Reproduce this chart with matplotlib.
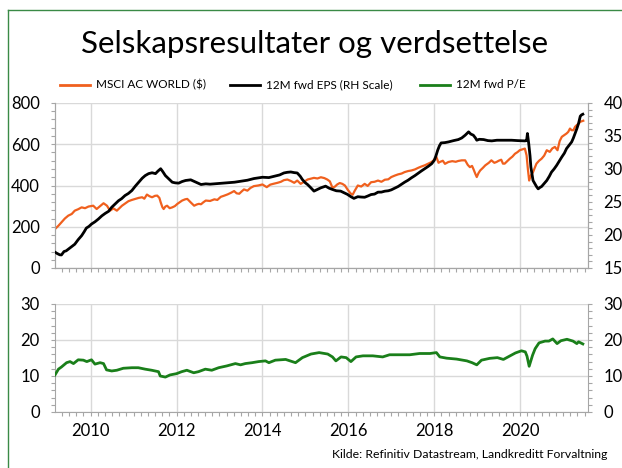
import matplotlib
matplotlib.use("Agg")
import matplotlib.pyplot as plt
from matplotlib.lines import Line2D
from matplotlib.ticker import MultipleLocator, FixedLocator

plt.rcParams["font.family"] = ["Lato", "DejaVu Sans"]

TITLE = "Selskapsresultater og verdsettelse"
SOURCE = "Kilde: Refinitiv Datastream, Landkreditt Forvaltning"
LABELS = ["MSCI AC WORLD ($)", "12M fwd EPS (RH Scale)", "12M fwd P/E"]
COLORS = ["#f0601e", "#000000", "#1a7f1a"]
YEAR_TICKS = [2010, 2012, 2014, 2016, 2018, 2020]

# MSCI AC World index level (left scale)
msci_t = [2009.17, 2009.25, 2009.32, 2009.40, 2009.48, 2009.56, 2009.63, 2009.71, 2009.79, 2009.87,
          2009.95, 2010.06, 2010.14, 2010.22, 2010.30, 2010.38, 2010.45, 2010.53, 2010.61, 2010.68,
          2010.73, 2010.80, 2010.88, 2010.96, 2011.04, 2011.12, 2011.20, 2011.25, 2011.31, 2011.37,
          2011.43, 2011.50, 2011.55, 2011.60, 2011.63, 2011.67, 2011.70, 2011.74, 2011.78, 2011.84,
          2011.90, 2011.96, 2012.02, 2012.08, 2012.13, 2012.20, 2012.25, 2012.33, 2012.41, 2012.47,
          2012.52, 2012.57, 2012.62, 2012.68, 2012.78, 2012.88, 2012.95, 2013.03, 2013.10, 2013.19,
          2013.27, 2013.34, 2013.40, 2013.46, 2013.52, 2013.57, 2013.65, 2013.72, 2013.80, 2013.90,
          2014.00, 2014.10, 2014.18, 2014.25, 2014.35, 2014.43, 2014.50, 2014.58, 2014.66, 2014.74,
          2014.81, 2014.89, 2014.97, 2015.05, 2015.13, 2015.20, 2015.28, 2015.36, 2015.44, 2015.51,
          2015.57, 2015.63, 2015.69, 2015.74, 2015.80, 2015.86, 2015.92, 2015.98, 2016.05, 2016.10,
          2016.15, 2016.22, 2016.30, 2016.38, 2016.45, 2016.53, 2016.61, 2016.69, 2016.77, 2016.85,
          2016.93, 2017.00, 2017.08, 2017.16, 2017.24, 2017.31, 2017.39, 2017.47, 2017.55, 2017.63,
          2017.70, 2017.78, 2017.86, 2017.94, 2018.00, 2018.05, 2018.10, 2018.13, 2018.20, 2018.25,
          2018.33, 2018.42, 2018.50, 2018.56, 2018.64, 2018.72, 2018.78, 2018.83, 2018.88, 2018.91,
          2018.96, 2018.99, 2019.03, 2019.07, 2019.13, 2019.19, 2019.27, 2019.33, 2019.40, 2019.45,
          2019.50, 2019.56, 2019.60, 2019.64, 2019.70, 2019.76, 2019.82, 2019.88, 2019.94, 2019.99,
          2020.05, 2020.11, 2020.15, 2020.18, 2020.21, 2020.25, 2020.30, 2020.38, 2020.44, 2020.50,
          2020.56, 2020.62, 2020.69, 2020.75, 2020.81, 2020.87, 2020.92, 2020.97, 2021.03, 2021.08,
          2021.12, 2021.16, 2021.20, 2021.24, 2021.28, 2021.32, 2021.36, 2021.40, 2021.47]
msci_v = [189, 205, 221, 240, 254, 262, 278, 285, 294, 290,
          298, 302, 286, 300, 314, 302, 278, 289, 278, 292,
          302, 312, 324, 330, 335, 340, 343, 336, 356, 348,
          343, 350, 351, 340, 319, 295, 286, 298, 302, 290,
          294, 300, 311, 320, 327, 333, 335, 318, 302, 308,
          311, 309, 318, 327, 325, 333, 330, 345, 350, 357,
          365, 373, 362, 360, 372, 381, 375, 388, 397, 400,
          405, 392, 404, 408, 413, 418, 426, 429, 422, 413,
          424, 408, 418, 429, 433, 437, 434, 440, 436, 429,
          420, 389, 395, 405, 412, 408, 400, 381, 362, 355,
          375, 400, 395, 408, 398, 416, 418, 424, 418, 428,
          430, 441, 448, 454, 458, 465, 470, 473, 478, 486,
          492, 498, 506, 514, 525, 538, 510, 514, 520, 505,
          514, 518, 515, 519, 522, 522, 500, 489, 495, 481,
          455, 441, 460, 473, 485, 498, 510, 522, 510, 514,
          520, 525, 506, 506, 518, 530, 540, 554, 562, 571,
          575, 579, 546, 480, 424, 449, 465, 506, 520, 530,
          545, 571, 563, 580, 587, 571, 615, 636, 645, 652,
          660, 676, 668, 668, 685, 693, 700, 709, 714]

# 12M forward EPS (right scale)
eps_t = [2009.17, 2009.22, 2009.28, 2009.32, 2009.38, 2009.43, 2009.48, 2009.55, 2009.63, 2009.71,
         2009.79, 2009.85, 2009.90, 2009.96, 2010.02, 2010.10, 2010.18, 2010.26, 2010.34, 2010.42,
         2010.49, 2010.57, 2010.65, 2010.72, 2010.80, 2010.88, 2010.96, 2011.04, 2011.12, 2011.20,
         2011.27, 2011.35, 2011.43, 2011.51, 2011.57, 2011.63, 2011.68, 2011.74, 2011.82, 2011.90,
         2011.97, 2012.05, 2012.13, 2012.21, 2012.33, 2012.45, 2012.57, 2012.68, 2012.78, 2012.88,
         2013.00, 2013.19, 2013.35, 2013.50, 2013.65, 2013.80, 2014.00, 2014.15, 2014.27, 2014.40,
         2014.50, 2014.58, 2014.66, 2014.74, 2014.81, 2014.88, 2014.93, 2015.00, 2015.05, 2015.12,
         2015.20, 2015.28, 2015.36, 2015.47, 2015.55, 2015.63, 2015.72, 2015.82, 2015.90, 2015.98,
         2016.06, 2016.13, 2016.22, 2016.30, 2016.38, 2016.45, 2016.53, 2016.61, 2016.69, 2016.77,
         2016.85, 2016.93, 2017.00, 2017.08, 2017.16, 2017.24, 2017.31, 2017.39, 2017.47, 2017.55,
         2017.63, 2017.70, 2017.78, 2017.86, 2017.94, 2018.00, 2018.04, 2018.08, 2018.12, 2018.16,
         2018.25, 2018.33, 2018.45, 2018.56, 2018.64, 2018.72, 2018.80, 2018.85, 2018.91, 2018.96,
         2018.99, 2019.05, 2019.15, 2019.25, 2019.34, 2019.46, 2019.60, 2019.80, 2019.95, 2020.11,
         2020.15, 2020.17, 2020.20, 2020.23, 2020.25, 2020.30, 2020.35, 2020.38, 2020.42, 2020.46,
         2020.50, 2020.56, 2020.62, 2020.68, 2020.73, 2020.79, 2020.85, 2020.91, 2020.97, 2021.03,
         2021.08, 2021.14, 2021.20, 2021.24, 2021.28, 2021.32, 2021.36, 2021.40, 2021.43, 2021.46]
eps_v = [17.4, 17.2, 17.0, 16.98, 17.5, 17.6, 17.85, 18.2, 18.6, 19.3,
         19.9, 20.5, 21.05, 21.3, 21.66, 22.0, 22.42, 22.9, 23.28, 23.6,
         24.2, 24.7, 25.2, 25.5, 25.98, 26.3, 26.74, 27.4, 28.0, 28.6,
         29.0, 29.3, 29.43, 29.3, 29.7, 30.04, 29.6, 29.0, 28.5, 28.0,
         27.9, 27.86, 28.1, 28.26, 28.36, 28.0, 27.65, 27.75, 27.7, 27.75,
         27.8, 27.9, 28.0, 28.15, 28.3, 28.55, 28.75, 28.7, 28.9, 29.1,
         29.4, 29.5, 29.55, 29.45, 29.4, 28.9, 28.4, 27.9, 27.65, 27.2,
         26.65, 26.9, 27.15, 27.4, 27.1, 26.9, 26.7, 26.65, 26.4, 26.15,
         25.8, 25.55, 25.8, 25.75, 25.72, 25.9, 26.13, 26.2, 26.49, 26.5,
         26.64, 26.7, 26.84, 27.1, 27.35, 27.7, 28.0, 28.3, 28.67, 29.0,
         29.38, 29.7, 30.04, 30.4, 30.8, 31.31, 32.0, 32.84, 33.5, 33.95,
         34.0, 34.1, 34.3, 34.46, 34.7, 35.12, 35.63, 35.3, 35.12, 34.7,
         34.36, 34.5, 34.46, 34.3, 34.26, 34.36, 34.36, 34.36, 34.3, 34.26,
         34.3, 35.38, 33.85, 32.0, 30.3, 28.26, 27.7, 27.35, 26.99, 27.2,
         27.35, 27.8, 28.26, 28.9, 29.53, 30.0, 30.55, 31.2, 31.82, 32.4,
         33.09, 33.6, 34.1, 34.7, 35.38, 36.1, 36.9, 38.0, 38.2, 38.3]

# 12M forward P/E (lower panel)
pe_t = [2009.17, 2009.25, 2009.32, 2009.44, 2009.52, 2009.60, 2009.71, 2009.83, 2009.91, 2010.02,
        2010.10, 2010.22, 2010.30, 2010.37, 2010.49, 2010.61, 2010.76, 2010.96, 2011.11, 2011.27,
        2011.42, 2011.58, 2011.62, 2011.74, 2011.85, 2012.00, 2012.12, 2012.24, 2012.40, 2012.51,
        2012.67, 2012.82, 2012.98, 2013.17, 2013.37, 2013.49, 2013.60, 2013.76, 2013.91, 2014.07,
        2014.15, 2014.30, 2014.54, 2014.77, 2014.93, 2015.13, 2015.32, 2015.52, 2015.63, 2015.71,
        2015.83, 2015.95, 2016.06, 2016.18, 2016.34, 2016.57, 2016.80, 2016.96, 2017.20, 2017.43,
        2017.66, 2017.90, 2018.05, 2018.13, 2018.29, 2018.52, 2018.76, 2018.88, 2018.99, 2019.10,
        2019.29, 2019.47, 2019.61, 2019.75, 2019.89, 2020.03, 2020.12, 2020.16, 2020.21, 2020.29,
        2020.35, 2020.44, 2020.58, 2020.67, 2020.76, 2020.86, 2020.95, 2021.09, 2021.23, 2021.32,
        2021.36, 2021.46]
pe_v = [10.3, 11.9, 12.5, 13.7, 14.0, 13.45, 14.5, 14.4, 14.0, 14.5,
        13.3, 13.7, 13.45, 11.7, 11.4, 11.6, 12.15, 12.3, 12.3, 11.9,
        11.6, 11.2, 10.0, 9.7, 10.3, 10.65, 11.2, 11.6, 10.9, 11.2,
        11.9, 11.6, 12.3, 12.8, 13.45, 13.1, 13.45, 13.7, 14.0, 14.2,
        13.7, 14.4, 14.6, 13.7, 15.1, 16.1, 16.5, 16.1, 15.3, 14.2,
        15.3, 15.1, 14.0, 15.3, 15.6, 15.6, 15.3, 15.9, 15.9, 15.9,
        16.25, 16.25, 16.5, 15.3, 14.95, 14.7, 14.2, 13.7, 13.1, 14.4,
        14.9, 15.1, 14.6, 15.5, 16.4, 17.0, 16.7, 15.5, 12.7, 15.8,
        17.6, 19.2, 19.7, 19.7, 20.3, 19.0, 19.8, 20.2, 19.7, 19.0,
        19.5, 18.9]

W, H = 622, 468
fig = plt.figure(figsize=(W / 100, H / 100), dpi=100)
fig.patch.set_facecolor("white")

x0, x1 = 55 / W, 588 / W
ax1 = fig.add_axes([x0, 1 - 268 / H, x1 - x0, (268 - 103) / H])
ax2 = fig.add_axes([x0, 1 - 412 / H, x1 - x0, (412 - 304) / H])
ax1r = ax1.twinx()

spine_col = "#a6a6a6"
grid_col = "#d9d9d9"

ax1.plot(msci_t, msci_v, color=COLORS[0], lw=1.6, zorder=3)
ax1r.plot(eps_t, eps_v, color=COLORS[1], lw=2.0, zorder=3)
ax2.plot(pe_t, pe_v, color=COLORS[2], lw=2.0, zorder=3)

ax1.set_ylim(0, 800)
ax1r.set_ylim(15, 40)
ax2.set_ylim(0, 30)
for ax in (ax1, ax1r, ax2):
    ax.set_xlim(2009.17, 2021.58)

ax1.yaxis.set_major_locator(MultipleLocator(200))
ax1.yaxis.set_minor_locator(MultipleLocator(40))
ax1r.yaxis.set_major_locator(MultipleLocator(5))
ax1r.yaxis.set_minor_locator(MultipleLocator(1))
ax2.yaxis.set_major_locator(MultipleLocator(10))
ax2.yaxis.set_minor_locator(MultipleLocator(2))

for ax in (ax1, ax2):
    ax.xaxis.set_major_locator(FixedLocator(YEAR_TICKS))
    ax.xaxis.set_minor_locator(MultipleLocator(1 / 6))
    ax.grid(True, which="major", color=grid_col, lw=1, zorder=0)
    ax.set_axisbelow(True)

ax1.tick_params(axis="x", labelbottom=False)
ax2.set_xticklabels([str(y) for y in YEAR_TICKS])
ax2.tick_params(axis="y", right=True, labelright=True, which="both")

for ax in (ax1, ax1r, ax2):
    ax.tick_params(which="both", direction="out", length=3, width=0.8,
                   color=spine_col, labelsize=12, pad=5)
    ax.tick_params(axis="y", which="both", pad=8)
    for side, sp in ax.spines.items():
        sp.set_color(spine_col)
        sp.set_linewidth(0.8)
    ax.spines["top"].set_visible(False)

# title, legend, source
fig.text(315 / W, 1 - 44 / H, TITLE, ha="center", va="center", fontsize=22.5)

leg_y = 1 - 85 / H
for (lx, tx), lab, col in zip([(60, 96), (230, 266), (420, 456)], LABELS, COLORS):
    fig.add_artist(Line2D([lx / W, (lx + 30) / W], [leg_y, leg_y],
                          transform=fig.transFigure, color=col, lw=2))
    fig.text(tx / W, leg_y, lab, ha="left", va="center", fontsize=8.5)

fig.text(607 / W, 1 - 455 / H, SOURCE, ha="right", va="center", fontsize=8.8)

# frame
border = "#3a8a46"
fig.add_artist(Line2D([8 / W, 8 / W], [0, 1 - 10 / H], transform=fig.transFigure, color=border, lw=1))
fig.add_artist(Line2D([8 / W, 1], [1 - 10 / H, 1 - 10 / H], transform=fig.transFigure, color=border, lw=1))

fig.savefig("out.png", dpi=100)
